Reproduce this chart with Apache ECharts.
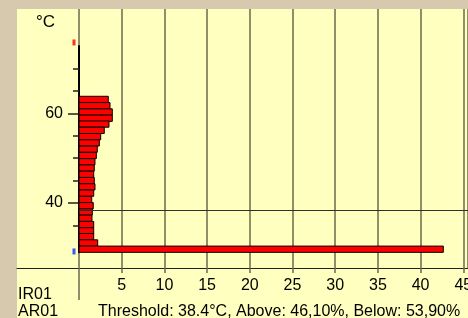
<!DOCTYPE html>
<html>
<head>
<meta charset="utf-8">
<style>
  html, body { margin: 0; padding: 0; background: #d6c9ad; }
  #chart { width: 468px; height: 318px; }
</style>
<script src="https://cdn.jsdelivr.net/npm/echarts@6/dist/echarts.min.js"></script>
</head>
<body>
<div id="chart"></div>
<script>
// histogram bins: centre temperature (°C) and share of pixels (%)
const binCenters = [63.1, 61.7, 60.3, 58.9, 57.6, 56.2, 54.8, 53.4, 52.0, 50.6, 49.2, 47.8, 46.4, 45.0, 43.6, 42.2, 40.8, 39.4, 38.0, 36.6, 35.2, 33.8, 32.5, 31.1, 29.7]
const binCounts = [3.43, 3.63, 3.9, 3.9, 3.51, 2.96, 2.54, 2.38, 2.14, 2.03, 1.87, 1.79, 1.72, 1.79, 1.87, 1.72, 1.49, 1.67, 1.56, 1.52, 1.72, 1.72, 1.72, 2.19, 42.66]
const binWidth = 1.395

const maxTemp = 75.8
const minTemp = 29.2
const threshold = 38.4

const yTicks = [35, 40, 45, 50, 55, 60, 65, 70]
const yLabels = [40, 60]

const gridColor = '#6a6a4c'
const font = 'Liberation Sans, Arial, sans-serif'

const chart = echarts.init(document.getElementById('chart'))

chart.setOption({
  backgroundColor: '#d6c9ad',
  animation: false,
  grid: [
    // yellow panel
    { left: 17, top: 9, right: 0, bottom: 0, show: true, backgroundColor: '#ffffc0', borderWidth: 0, outerBoundsMode: 'none' },
    // plot area
    { left: 79, top: 9, right: 0, bottom: 50, outerBoundsMode: 'none' },
    // black temperature axis
    { left: 79, top: 46, right: 0, bottom: 65.7, outerBoundsMode: 'none' },
    // long horizontal axis line
    { left: 17, top: 9, right: 0, bottom: 50, outerBoundsMode: 'none' },
  ],
  xAxis: [
    { gridIndex: 0, type: 'value', show: false },
    {
      gridIndex: 1,
      type: 'value',
      position: 'bottom',
      min: 0,
      max: 45.55,
      interval: 5,
      axisLine: { show: false, onZero: false },
      axisTick: { show: true, length: 5, lineStyle: { color: gridColor, width: 1.5 } },
      axisLabel: {
        color: '#000',
        fontSize: 16,
        fontFamily: font,
        margin: 10,
        showMinLabel: false,
        showMaxLabel: false,
      },
      splitLine: { show: true, lineStyle: { color: gridColor, width: 1.5 } },
    },
    {
      gridIndex: 1,
      type: 'value',
      position: 'bottom',
      min: 0,
      max: 45.55,
      axisLine: { show: false, onZero: false },
      axisTick: { show: true, customValues: [0], length: 32, lineStyle: { color: gridColor, width: 1.5 } },
      axisLabel: { show: false },
      splitLine: { show: false },
    },
    { gridIndex: 2, type: 'value', min: 0, max: 45.55, show: false },
    {
      gridIndex: 3,
      type: 'value',
      position: 'bottom',
      axisLine: { show: true, onZero: false, lineStyle: { color: '#202020', width: 1 } },
      axisTick: { show: false },
      axisLabel: { show: false },
      splitLine: { show: false },
    },
  ],
  yAxis: [
    { gridIndex: 0, type: 'value', show: false },
    { gridIndex: 1, type: 'value', min: 25.51, max: 83.26, show: false },
    {
      gridIndex: 2,
      type: 'value',
      position: 'left',
      min: 29,
      max: 75,
      axisLine: { show: true, onZero: false, lineStyle: { color: '#000', width: 2 } },
      axisTick: { show: true, customValues: yTicks, length: 6, lineStyle: { color: '#202020', width: 1.5 } },
      axisLabel: { show: false },
      splitLine: { show: false },
    },
    {
      gridIndex: 2,
      type: 'value',
      position: 'left',
      offset: 0,
      min: 29,
      max: 75,
      axisLine: { show: false, onZero: false },
      axisTick: { show: true, customValues: yLabels, length: 11, lineStyle: { color: '#202020', width: 1.5 } },
      axisLabel: { customValues: yLabels, color: '#000', fontSize: 16, fontFamily: font, margin: 16 },
      splitLine: { show: false },
    },
    { gridIndex: 3, type: 'value', show: false },
  ],
  graphic: [
    { type: 'text', left: 36, top: 14, style: { text: '°C', fill: '#000', font: '17px ' + font } },
    { type: 'text', left: 18, top: 287, style: { text: 'IR01', fill: '#000', font: '16px ' + font } },
    { type: 'text', left: 18, top: 304, style: { text: 'AR01', fill: '#000', font: '16px ' + font } },
    {
      type: 'text',
      left: 98,
      top: 304,
      style: { text: 'Threshold: 38.4°C, Above: 46,10%, Below: 53,90%', fill: '#000', font: '16px ' + font },
    },
  ],
  series: [
    {
      name: 'threshold',
      type: 'line',
      xAxisIndex: 1,
      yAxisIndex: 1,
      data: [],
      z: 1,
      markLine: {
        silent: true,
        symbol: 'none',
        label: { show: false },
        lineStyle: { color: '#303030', width: 1, type: 'solid' },
        data: [{ yAxis: threshold }],
      },
    },
    {
      name: 'histogram',
      type: 'custom',
      xAxisIndex: 1,
      yAxisIndex: 1,
      z: 3,
      encode: { x: 1, y: 0 },
      data: binCenters.map((t, i) => [t, binCounts[i]]),
      renderItem(params, api) {
        const t = api.value(0)
        const c = api.value(1)
        const p0 = api.coord([0, t + binWidth / 2])
        const p1 = api.coord([c, t - binWidth / 2])
        return {
          type: 'rect',
          shape: { x: p0[0], y: p0[1], width: p1[0] - p0[0], height: p1[1] - p0[1] },
          style: { fill: '#ff0000', stroke: '#000', lineWidth: 1 },
        }
      },
    },
    {
      name: 'extremes',
      type: 'scatter',
      xAxisIndex: 1,
      yAxisIndex: 1,
      clip: false,
      z: 4,
      symbol: 'rect',
      symbolSize: [3, 6],
      symbolOffset: [-5, 0],
      data: [
        { value: [0, maxTemp], itemStyle: { color: '#ff0000' } },
        { value: [0, minTemp], itemStyle: { color: '#0033ff' } },
      ],
    },
  ],
})
</script>
</body>
</html>
